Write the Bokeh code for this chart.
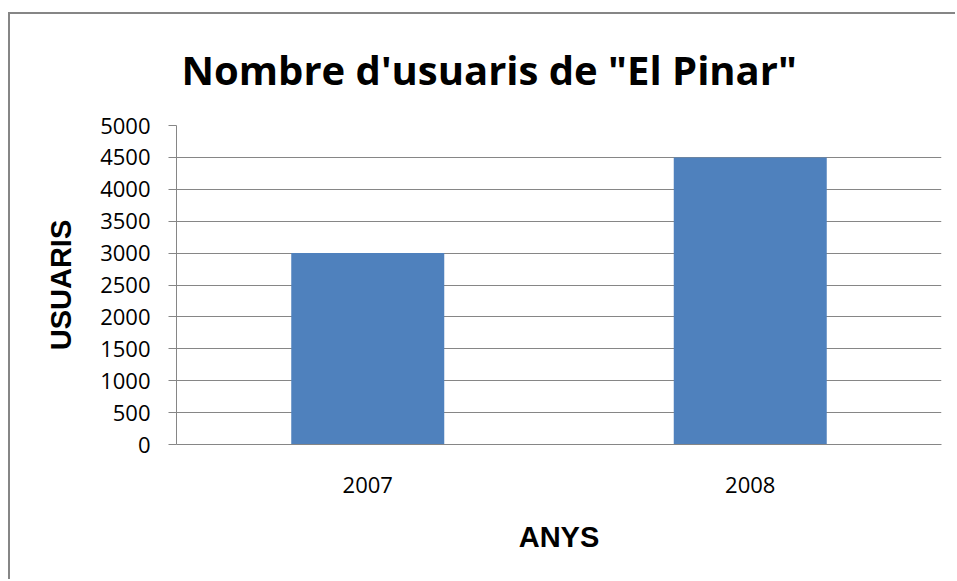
from bokeh.plotting import figure
from bokeh.models import FactorRange, Range1d, FixedTicker
from bokeh.embed import file_html
from bokeh.resources import INLINE

years = ["2007", "2008"]
users = [3000, 4500]
y_ticks = [0, 500, 1000, 1500, 2000, 2500, 3000, 3500, 4000, 4500, 5000]
title_text = 'Nombre d\'usuaris de "El Pinar"'
x_label = "ANYS"
y_label = "USUARIS"

GRAY = "#868686"
BAR = "#4F81BD"

# chart frame (grey border) drawn with CSS on the figure element
ML, MT, BW = 8, 12, 2
W, H = 957 - ML - BW, 581 - MT - BW
FL, FR, FT, FB = 176, 941, 125, 444  # page pixel positions of the plot area
off_x, off_y = ML + BW, MT + BW

p = figure(width=W, height=H, x_range=FactorRange(*years, range_padding=0),
           y_range=Range1d(0, 5000), output_backend="svg", toolbar_location=None,
           min_border_left=FL - off_x, min_border_right=W - (FR - off_x),
           min_border_top=FT - off_y, min_border_bottom=H - (FB - off_y))
p.styles = {"margin-left": f"{ML}px", "margin-top": f"{MT}px",
            "border-left": f"{BW}px solid {GRAY}", "border-top": f"{BW}px solid {GRAY}"}
p.outline_line_color = None
p.background_fill_color = "white"
p.border_fill_color = "white"

p.vbar(x=years, top=users, width=0.4, fill_color=BAR, line_color=None)

# title
p.title.text = title_text
p.title.text_font = "Open Sans"
p.title.text_font_style = "bold"
p.title.text_font_size = "40px"
p.title.align = "left"
p.title.vertical_align = "top"
p.title.offset = 5
p.title.standoff = 54
p.title.text_color = "black"

# y axis
ya = p.yaxis[0]
ya.ticker = FixedTicker(ticks=y_ticks)
ya.axis_line_color = GRAY
ya.major_tick_line_color = GRAY
ya.major_tick_in = 0
ya.major_tick_out = 8
ya.minor_tick_line_color = None
ya.major_label_text_font = "Open Sans"
ya.major_label_text_font_size = "22px"
ya.major_label_text_color = "black"
ya.major_label_standoff = 18
ya.axis_label = y_label
ya.axis_label_text_font = "Liberation Sans"
ya.axis_label_text_font_style = "bold"
ya.axis_label_text_font_size = "29px"
ya.axis_label_text_color = "black"
ya.axis_label_standoff = 20

# x axis
xa = p.xaxis[0]
xa.axis_line_color = GRAY
xa.major_tick_line_color = None
xa.major_tick_out = 0
xa.major_tick_in = 0
xa.minor_tick_line_color = None
xa.major_label_text_font = "Open Sans"
xa.major_label_text_font_size = "22px"
xa.major_label_text_color = "black"
xa.major_label_standoff = 32
xa.axis_label = x_label
xa.axis_label_text_font = "Liberation Sans"
xa.axis_label_text_font_style = "bold"
xa.axis_label_text_font_size = "29px"
xa.axis_label_text_color = "black"
xa.axis_label_standoff = 25

p.xgrid.grid_line_color = None
p.ygrid.ticker = FixedTicker(ticks=y_ticks)
p.ygrid.grid_line_color = GRAY
p.ygrid.grid_line_width = 1

open("out.html", "w").write(file_html(p, INLINE))
